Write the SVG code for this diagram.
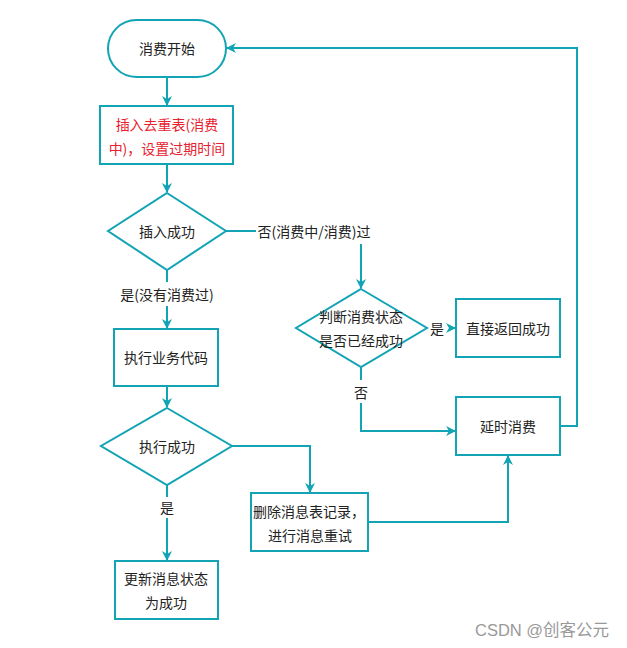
<svg xmlns="http://www.w3.org/2000/svg" width="627" height="648" viewBox="0 0 627 648">
<defs>
<marker id="ah" markerWidth="10" markerHeight="10" refX="9" refY="5" orient="auto" markerUnits="userSpaceOnUse">
<path d="M0,0 L10,5 L0,10 L3,5 Z" fill="#12a3b4"/>
</marker>
<style>
.n{fill:#fff;stroke:#12a3b4;stroke-width:2}
.c{fill:none;stroke:#12a3b4;stroke-width:2}
.t{font-family:"Noto Sans CJK SC","Noto Sans",sans-serif;font-size:14px;fill:#222;text-anchor:middle;dominant-baseline:central}
.r{fill:#e8212f}
.w{font-family:"Liberation Sans","Noto Sans CJK SC",sans-serif;font-size:16.5px;fill:#999}
</style>
</defs>
<rect width="627" height="648" fill="#fff"/>
<g id="connectors">
<path class="c" d="M167,77 V105" marker-end="url(#ah)"/>
<path class="c" d="M167,164 V192" marker-end="url(#ah)"/>
<path class="c" d="M226,231 H256"/>
<path class="c" d="M361,244 V288" marker-end="url(#ah)"/>
<path class="c" d="M167,270 V282"/>
<path class="c" d="M167,306 V328" marker-end="url(#ah)"/>
<path class="c" d="M167,386 V407" marker-end="url(#ah)"/>
<path class="c" d="M232,446 H310 V492" marker-end="url(#ah)"/>
<path class="c" d="M167,485 V497"/>
<path class="c" d="M167,518 V560" marker-end="url(#ah)"/>
<path class="c" d="M449,328 H455" marker-end="url(#ah)"/>
<path class="c" d="M361,367 V380"/>
<path class="c" d="M361,403 V431 H455" marker-end="url(#ah)"/>
<path class="c" d="M368,522 H508 V456" marker-end="url(#ah)"/>
<path class="c" d="M560,426 H577 V48 H227" marker-end="url(#ah)"/>
<text class="t" x="314" y="231">否(消费中/消费)过</text>
<text class="t" x="167" y="294">是(没有消费过)</text>
<text class="t" x="167" y="507">是</text>
<text class="t" x="437" y="328">是</text>
<text class="t" x="361" y="392">否</text>
</g>
<g id="start">
<rect class="n" x="108" y="20" width="118" height="57" rx="28.5"/>
<text class="t" x="167" y="48">消费开始</text>
</g>
<g id="insert">
<rect class="n" x="100" y="106" width="133" height="58"/>
<text class="t r" x="167" y="124">插入去重表(消费</text>
<text class="t r" x="167" y="148">中)，设置过期时间</text>
</g>
<g id="insertOk">
<polygon class="n" points="167,193 226,231 167,270 108,231"/>
<text class="t" x="167" y="231">插入成功</text>
</g>
<g id="exec">
<rect class="n" x="114" y="329" width="104" height="57"/>
<text class="t" x="166" y="357">执行业务代码</text>
</g>
<g id="execOk">
<polygon class="n" points="167,408 232,446 167,485 101,446"/>
<text class="t" x="167" y="446">执行成功</text>
</g>
<g id="update">
<rect class="n" x="115" y="561" width="103" height="58"/>
<text class="t" x="166" y="578">更新消息状态</text>
<text class="t" x="166" y="602">为成功</text>
</g>
<g id="delete">
<rect class="n" x="251" y="493" width="117" height="58"/>
<text class="t" x="309" y="511">删除消息表记录，</text>
<text class="t" x="310" y="535">进行消息重试</text>
</g>
<g id="judge">
<polygon class="n" points="361,289 427,328 361,367 296,328"/>
<text class="t" x="361" y="316">判断消费状态</text>
<text class="t" x="361" y="340">是否已经成功</text>
</g>
<g id="returnOk">
<rect class="n" x="456" y="299" width="104" height="58"/>
<text class="t" x="508" y="328">直接返回成功</text>
</g>
<g id="delay">
<rect class="n" x="456" y="397" width="104" height="58"/>
<text class="t" x="508" y="426">延时消费</text>
</g>
<text class="w" x="475" y="636">CSDN @创客公元</text>
</svg>
